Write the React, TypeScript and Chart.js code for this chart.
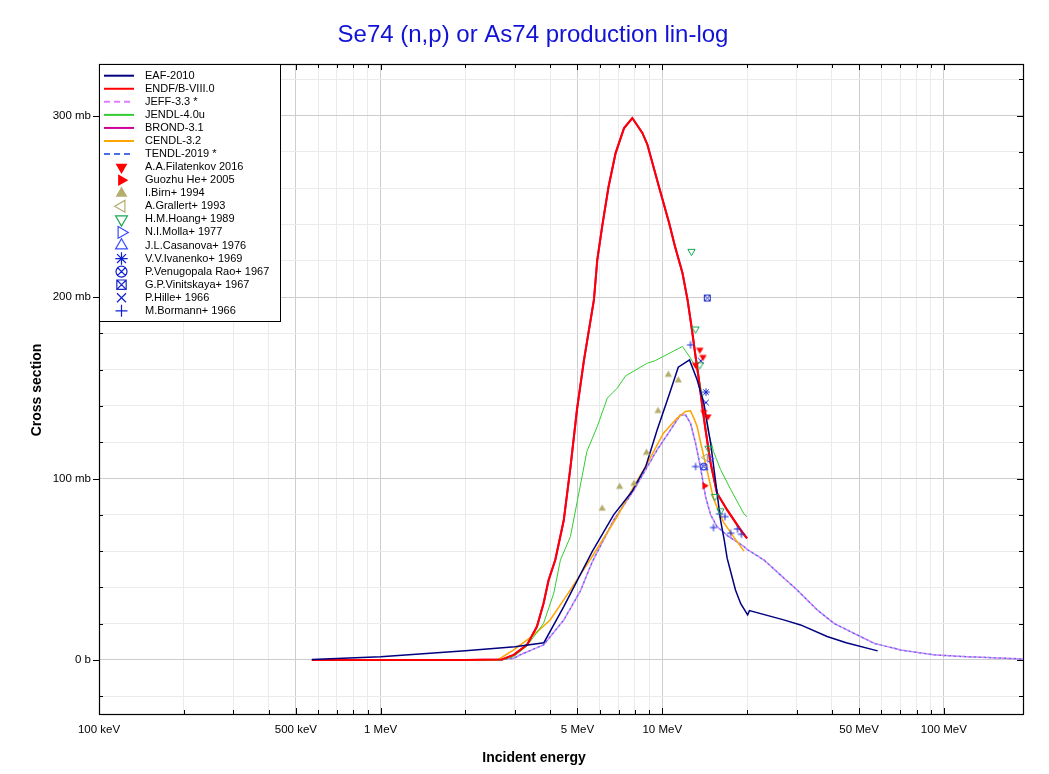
import React, { useEffect, useRef } from 'react';
import { Chart, registerables } from 'chart.js';
Chart.register(...registerables);

const FONT = '"Liberation Sans", Arial, sans-serif';
const W = 1049;
const H = 774;

// ---- axes ----
const X_MIN = 0.1; // MeV
const X_MAX = 191; // MeV
const Y_MIN = -29.8; // mb
const Y_MAX = 328.5; // mb
const xLabelValues = [0.1, 0.5, 1, 5, 10, 50, 100];
const xLabelTexts = ['100 keV', '500 keV', '1 MeV', '5 MeV', '10 MeV', '50 MeV', '100 MeV'];
const yLabelValues = [0, 100, 200, 300];
const yLabelTexts = ['0 b', '100 mb', '200 mb', '300 mb'];
const yMinorValues = [-20, 0, 20, 40, 60, 80, 100, 120, 140, 160, 180, 200, 220, 240, 260, 280, 300, 320];
const xDecades = [0.1, 1, 10, 100];
const xMultipliers = [1, 2, 3, 4, 5, 6, 7, 8, 9];

const TITLE = 'Se74 (n,p) or As74 production lin-log';
const X_TITLE = 'Incident energy';
const Y_TITLE = 'Cross section';

// ---- evaluated libraries (E in MeV, cross section in mb) ----
const eafE = [0.57, 1.0, 2.0, 3.0, 3.8, 4.47, 5.64, 6.72, 7.81, 8.74, 9.59, 10.53, 11.4, 12.5, 13.3, 14.05, 14.85, 15.5, 16.1, 16.6, 17.0, 18.2, 19.0, 20.1, 20.4, 27.0, 31.0, 38.5, 45.0, 58.2];
const eafXS = [0.3, 1.8, 5.0, 7.3, 9.5, 29.4, 59.7, 80, 92.8, 106.6, 126.8, 145.2, 161.4, 165.4, 154.4, 141.6, 119.5, 97.4, 77.2, 66.2, 56.1, 38.6, 31, 24.8, 27.2, 22.1, 19.3, 12.9, 9.5, 5.0];

const endfE = [0.57, 1.0, 2.0, 2.7, 2.97, 3.31, 3.59, 3.79, 3.95, 4.17, 4.47, 4.72, 4.98, 5.27, 5.72, 5.88, 6.12, 6.45, 6.83, 7.32, 7.83, 8.5, 8.86, 9.73, 10.58, 11.1, 11.8, 12.3, 12.75, 13.13, 13.5, 13.88, 14.25, 14.85, 15.65, 17.0, 18.97, 20.0];
const endfXS = [0, 0, 0, 0.3, 2.8, 8.3, 18.4, 31.3, 44.1, 55.1, 77, 106, 138, 165, 198.5, 220.6, 239, 261, 279.4, 293.2, 298.7, 290.5, 284, 261, 240.8, 227.9, 213.3, 198.5, 182, 167.3, 154.4, 139.7, 126.8, 108.5, 91.9, 82.7, 71.7, 67];

const brondE = endfE;
const brondXS = endfXS;

const jendlE = [0.57, 2.0, 2.7, 2.97, 3.31, 3.79, 4.12, 4.35, 4.72, 5.19, 5.4, 5.88, 6.38, 6.92, 7.41, 8.86, 9.45, 11.8, 12.6, 13.3, 14.05, 14.5, 15.2, 16.1, 17.5, 19.5, 20.0];
const jendlXS = [0, 0, 0, 1.8, 7.7, 20.2, 36.8, 55.1, 68, 101, 114.9, 128.7, 144.3, 149.8, 156.6, 163.6, 165, 172.8, 166.4, 160, 141.6, 127, 115, 105, 94, 80.5, 79];

const cendlE = [0.57, 2.0, 2.6, 2.97, 3.5, 4.0, 4.72, 5.64, 6.92, 7.92, 8.86, 10.1, 11.3, 12.1, 12.6, 12.97, 13.3, 13.68, 14.45, 15.2, 16.5, 17.9, 19.5];
const cendlXS = [0, 0, 0, 5.5, 13.8, 22, 38.6, 57, 79, 95.6, 108.5, 125, 133.3, 137, 137.3, 133, 128.7, 120, 104, 89, 76, 68, 60];

const jeffE = [2.5, 2.97, 3.13, 3.79, 4.47, 5.12, 5.64, 6.72, 7.92, 9.59, 10.7, 11.6, 12.1, 12.6, 13.13, 13.68, 14.25, 14.85, 15.65, 17.2, 18.0, 19.5, 20.0, 23, 30.1, 35.5, 40.7, 46.6, 56.5, 70.1, 92, 120, 150, 191];
const jeffXS = [0, 0.9, 2.8, 8.3, 22, 38, 54, 77, 93.5, 115.8, 126.8, 135.1, 135, 130.5, 119.5, 106, 90, 80, 73.5, 68, 66.2, 62.5, 61, 55, 38.6, 27.6, 20.2, 15.6, 9.2, 5.5, 2.8, 1.8, 1.2, 0.5];

const tendlE = jeffE;
const tendlXS = jeffXS;

// ---- experimental data ----
const filatenkovE = [13.13, 13.6, 13.95, 14.05, 14.52];
const filatenkovXS = [162.7, 171, 167, 136.6, 134.2];
const heE = [14.13];
const heXS = [96];
const birnE = [6.12, 7.06, 7.94, 8.79, 9.66, 10.51, 11.4];
const birnXS = [83.4, 95.4, 97.1, 114.2, 137.2, 157.2, 154.1];
const grallertE = [14.21];
const grallertXS = [111.6];
const hoangE = [12.7, 13.13, 13.6, 14.6, 15.38, 16.1];
const hoangXS = [225.2, 182.4, 162.7, 116.7, 90.1, 82.2];
const mollaE = [14.75];
const mollaXS = [111];
const casanovaE = [14.1];
const casanovaXS = [106];
const ivanenkoE = [14.3];
const ivanenkoXS = [147.6];
const raoE = [14.05];
const raoXS = [106.6];
const vinitskayaE = [14.45];
const vinitskayaXS = [199.5];
const hilleE = [13.7, 14.3];
const hilleXS = [164.9, 141.9];
const bormannE = [12.6, 13.13, 15.2, 16.0, 16.7, 17.5, 18.5, 19.1];
const bormannXS = [173.7, 106.6, 73, 80.5, 79, 69.9, 72.2, 69.3];

type LineSpec = { label: string; E: number[]; XS: number[]; color: string; width: number; dash: number[]; dashOffset: number; order: number };
type PointSpec = { label: string; E: number[]; XS: number[]; color: string; kind: string };

const lineSeries: LineSpec[] = [
  { label: 'EAF-2010', E: eafE, XS: eafXS, color: '#000080', width: 1.5, dash: [], dashOffset: 0, order: 3 },
  { label: 'ENDF/B-VIII.0', E: endfE, XS: endfXS, color: '#ff0000', width: 2, dash: [], dashOffset: 0, order: 4 },
  { label: 'JEFF-3.3 *', E: jeffE, XS: jeffXS, color: '#e27cff', width: 1.5, dash: [3, 2], dashOffset: 0, order: 7 },
  { label: 'JENDL-4.0u', E: jendlE, XS: jendlXS, color: '#33cc33', width: 1, dash: [], dashOffset: 0, order: 5 },
  { label: 'BROND-3.1', E: brondE, XS: brondXS, color: '#cc0099', width: 2, dash: [], dashOffset: 0, order: 9 },
  { label: 'CENDL-3.2', E: cendlE, XS: cendlXS, color: '#ffa500', width: 1.5, dash: [], dashOffset: 0, order: 6 },
  { label: 'TENDL-2019 *', E: tendlE, XS: tendlXS, color: '#4a6ee8', width: 1.5, dash: [3, 2], dashOffset: 3, order: 8 },
];

const pointSeries: PointSpec[] = [
  { label: 'A.A.Filatenkov 2016', E: filatenkovE, XS: filatenkovXS, color: '#ff0000', kind: 'tri-down-f' },
  { label: 'Guozhu He+ 2005', E: heE, XS: heXS, color: '#ff0000', kind: 'tri-right-f' },
  { label: 'I.Birn+ 1994', E: birnE, XS: birnXS, color: '#b5ad6e', kind: 'tri-up-f' },
  { label: 'A.Grallert+ 1993', E: grallertE, XS: grallertXS, color: '#b5ad6e', kind: 'tri-left-o' },
  { label: 'H.M.Hoang+ 1989', E: hoangE, XS: hoangXS, color: '#14a850', kind: 'tri-down-o' },
  { label: 'N.I.Molla+ 1977', E: mollaE, XS: mollaXS, color: '#3a4cff', kind: 'tri-right-o' },
  { label: 'J.L.Casanova+ 1976', E: casanovaE, XS: casanovaXS, color: '#3a4cff', kind: 'tri-up-o' },
  { label: 'V.V.Ivanenko+ 1969', E: ivanenkoE, XS: ivanenkoXS, color: '#1020d0', kind: 'star' },
  { label: 'P.Venugopala Rao+ 1967', E: raoE, XS: raoXS, color: '#1020d0', kind: 'circle-x' },
  { label: 'G.P.Vinitskaya+ 1967', E: vinitskayaE, XS: vinitskayaXS, color: '#1a2ac8', kind: 'square-x' },
  { label: 'P.Hille+ 1966', E: hilleE, XS: hilleXS, color: '#1020d0', kind: 'x' },
  { label: 'M.Bormann+ 1966', E: bormannE, XS: bormannXS, color: '#1020d0', kind: 'plus' },
];

function drawMarker(ctx: CanvasRenderingContext2D, kind: string, cx: number, cy: number, r: number, color: string, lw: number) {
  ctx.save();
  ctx.strokeStyle = color;
  ctx.fillStyle = color;
  ctx.lineWidth = lw;
  ctx.beginPath();
  if (kind.startsWith('tri')) {
    const dir = kind.split('-')[1];
    const rot = dir === 'up' ? 0 : dir === 'right' ? Math.PI / 2 : dir === 'down' ? Math.PI : -Math.PI / 2;
    for (let i = 0; i < 3; i++) {
      const a = rot + (i * 2 * Math.PI) / 3;
      const px = cx + Math.sin(a) * r;
      const py = cy - Math.cos(a) * r;
      if (i === 0) ctx.moveTo(px, py);
      else ctx.lineTo(px, py);
    }
    ctx.closePath();
    if (kind.endsWith('-f')) ctx.fill();
    else ctx.stroke();
  } else if (kind === 'star') {
    const d = r * 0.72;
    ctx.moveTo(cx - r, cy); ctx.lineTo(cx + r, cy);
    ctx.moveTo(cx, cy - r); ctx.lineTo(cx, cy + r);
    ctx.moveTo(cx - d, cy - d); ctx.lineTo(cx + d, cy + d);
    ctx.moveTo(cx - d, cy + d); ctx.lineTo(cx + d, cy - d);
    ctx.stroke();
  } else if (kind === 'circle-x') {
    ctx.arc(cx, cy, r, 0, Math.PI * 2);
    const d = r * 0.7;
    ctx.moveTo(cx - d, cy - d); ctx.lineTo(cx + d, cy + d);
    ctx.moveTo(cx - d, cy + d); ctx.lineTo(cx + d, cy - d);
    ctx.stroke();
  } else if (kind === 'square-x') {
    const d = r * 0.85;
    ctx.rect(cx - d, cy - d, 2 * d, 2 * d);
    ctx.moveTo(cx - d, cy - d); ctx.lineTo(cx + d, cy + d);
    ctx.moveTo(cx - d, cy + d); ctx.lineTo(cx + d, cy - d);
    ctx.stroke();
  } else if (kind === 'x') {
    const d = r * 0.75;
    ctx.moveTo(cx - d, cy - d); ctx.lineTo(cx + d, cy + d);
    ctx.moveTo(cx - d, cy + d); ctx.lineTo(cx + d, cy - d);
    ctx.stroke();
  } else if (kind === 'plus') {
    ctx.moveTo(cx - r, cy); ctx.lineTo(cx + r, cy);
    ctx.moveTo(cx, cy - r); ctx.lineTo(cx, cy + r);
    ctx.stroke();
  }
  ctx.restore();
}

function markerCanvas(kind: string, color: string, r: number, lw: number): HTMLCanvasElement {
  const size = Math.ceil(2 * r + lw + 3);
  const c = document.createElement('canvas');
  c.width = size;
  c.height = size;
  const g = c.getContext('2d')!;
  drawMarker(g, kind, size / 2, size / 2, r, color, lw);
  return c;
}

function markerRadius(kind: string, legend: boolean): number {
  if (kind.startsWith('tri')) return legend ? 6.8 : 4.2;
  if (kind === 'plus') return legend ? 6 : 3.6;
  if (kind === 'x') return legend ? 6 : 3.8;
  if (kind === 'star') return legend ? 6.2 : 3.8;
  return legend ? 5.5 : 3.5;
}

const xGridValues: number[] = [];
xDecades.forEach((d) => xMultipliers.forEach((m) => { const v = d * m; if (v <= X_MAX * 1.0001) xGridValues.push(v); }));

function labelIndex(vals: number[], v: number): number {
  for (let i = 0; i < vals.length; i++) {
    if (Math.abs(v - vals[i]) <= 1e-6 * Math.max(1, Math.abs(vals[i]))) return i;
  }
  return -1;
}

const decorPlugin = {
  id: 'decor',
  afterDatasetsDraw(chart: any) {
    const ctx: CanvasRenderingContext2D = chart.ctx;
    const { left, right, top, bottom } = chart.chartArea;
    const xs = chart.scales.x;
    const ys = chart.scales.y;
    ctx.save();
    ctx.strokeStyle = '#000';
    ctx.lineWidth = 1;
    ctx.beginPath();
    xGridValues.forEach((v) => {
      const px = Math.round(xs.getPixelForValue(v)) + 0.5;
      if (px < left + 1 || px > right - 1) return;
      const len = labelIndex(xLabelValues, v) >= 0 ? 6 : 4;
      ctx.moveTo(px, bottom); ctx.lineTo(px, bottom - len);
      ctx.moveTo(px, top); ctx.lineTo(px, top + len);
    });
    yMinorValues.forEach((v) => {
      const py = Math.round(ys.getPixelForValue(v)) + 0.5;
      const lab = labelIndex(yLabelValues, v) >= 0;
      if (lab) { ctx.moveTo(left - 6, py); ctx.lineTo(left, py); }
      else { ctx.moveTo(left, py); ctx.lineTo(left + 4, py); }
      ctx.moveTo(right, py); ctx.lineTo(right - (lab ? 6 : 4), py);
    });
    ctx.stroke();
    ctx.lineWidth = 1.2;
    ctx.strokeRect(Math.round(left) + 0.5, Math.round(top) + 0.5, Math.round(right - left), Math.round(bottom - top));
    ctx.restore();
  },
  afterDraw(chart: any) {
    const ctx: CanvasRenderingContext2D = chart.ctx;
    const { left, top } = chart.chartArea;
    ctx.save();
    // title
    ctx.fillStyle = '#1212d4';
    ctx.font = `24px ${FONT}`;
    ctx.textAlign = 'center';
    ctx.textBaseline = 'middle';
    ctx.fillText(TITLE, 533, 35);
    // axis titles
    ctx.fillStyle = '#000';
    ctx.font = `bold 14px ${FONT}`;
    ctx.fillText(X_TITLE, 534, 758);
    ctx.save();
    ctx.translate(37, 390);
    ctx.rotate(-Math.PI / 2);
    ctx.fillText(Y_TITLE, 0, 0);
    ctx.restore();
    // legend
    const bx = Math.round(left) + 0.5;
    const by = Math.round(top) + 0.5;
    const bw = 181;
    const bh = 257;
    ctx.fillStyle = '#fff';
    ctx.fillRect(bx, by, bw, bh);
    ctx.strokeStyle = '#000';
    ctx.lineWidth = 1;
    ctx.strokeRect(bx, by, bw, bh);
    const y0 = 75.7;
    const dy = 13.06;
    ctx.font = `11px ${FONT}`;
    ctx.textAlign = 'left';
    ctx.textBaseline = 'middle';
    let row = 0;
    lineSeries.forEach((s) => {
      const y = y0 + row * dy;
      ctx.save();
      ctx.strokeStyle = s.color;
      ctx.lineWidth = 2;
      ctx.setLineDash(s.dash.length ? [6, 4] : []);
      ctx.beginPath();
      ctx.moveTo(104, y);
      ctx.lineTo(134, y);
      ctx.stroke();
      ctx.restore();
      ctx.fillStyle = '#000';
      ctx.fillText(s.label, 145, y);
      row++;
    });
    pointSeries.forEach((s) => {
      const y = y0 + row * dy;
      drawMarker(ctx, s.kind, 121.5, y, markerRadius(s.kind, true), s.color, 1.2);
      ctx.fillStyle = '#000';
      ctx.fillText(s.label, 145, y);
      row++;
    });
    ctx.restore();
  },
};

export default function App() {
  const ref = useRef<HTMLCanvasElement | null>(null);
  useEffect(() => {
    const canvas = ref.current;
    if (!canvas) return;
    const datasets: any[] = [];
    lineSeries.forEach((s) => {
      datasets.push({
        label: s.label,
        data: s.E.map((x, i) => ({ x, y: s.XS[i] })),
        borderColor: s.color,
        backgroundColor: s.color,
        borderWidth: s.width,
        borderDash: s.dash,
        borderDashOffset: s.dashOffset,
        pointRadius: 0,
        pointHoverRadius: 0,
        fill: false,
        tension: 0,
        order: s.order,
      });
    });
    pointSeries.forEach((s) => {
      const r = markerRadius(s.kind, false);
      datasets.push({
        label: s.label,
        data: s.E.map((x, i) => ({ x, y: s.XS[i] })),
        showLine: false,
        pointStyle: markerCanvas(s.kind, s.color, r, 1),
        pointRadius: r,
        pointHoverRadius: r,
        borderWidth: 0,
        order: 0,
      });
    });
    const chart = new Chart(canvas, {
      type: 'line',
      data: { datasets },
      options: {
        animation: false,
        responsive: false,
        devicePixelRatio: 1,
        events: [],
        layout: { padding: { left: 0, right: 26, top: 64, bottom: 0 } },
        plugins: { legend: { display: false }, title: { display: false }, tooltip: { enabled: false } },
        scales: {
          x: {
            type: 'logarithmic',
            min: X_MIN,
            max: X_MAX,
            afterBuildTicks: (s: any) => { s.ticks = xGridValues.map((v) => ({ value: v })); },
            afterFit: (s: any) => { s.height = 60; },
            ticks: {
              autoSkip: false,
              maxRotation: 0,
              minRotation: 0,
              padding: 9,
              color: '#000',
              font: { family: FONT, size: 11.5 },
              callback: (v: any) => { const i = labelIndex(xLabelValues, Number(v)); return i >= 0 ? xLabelTexts[i] : ''; },
            },
            grid: {
              drawTicks: false,
              lineWidth: 1,
              color: (c: any) => (c.tick && labelIndex(xLabelValues, c.tick.value) >= 0 ? '#cdcdcd' : '#ebebeb'),
            },
            border: { display: true, color: '#000', width: 1 },
          },
          y: {
            type: 'linear',
            min: Y_MIN,
            max: Y_MAX,
            afterBuildTicks: (s: any) => { s.ticks = yMinorValues.map((v) => ({ value: v })); },
            afterFit: (s: any) => { s.width = 99; },
            ticks: {
              autoSkip: false,
              padding: 8,
              color: '#000',
              font: { family: FONT, size: 11.5 },
              callback: (v: any) => { const i = labelIndex(yLabelValues, Number(v)); return i >= 0 ? yLabelTexts[i] : ''; },
            },
            grid: {
              drawTicks: false,
              lineWidth: 1,
              color: (c: any) => (c.tick && labelIndex(yLabelValues, c.tick.value) >= 0 ? '#cdcdcd' : '#ebebeb'),
            },
            border: { display: true, color: '#000', width: 1 },
          },
        },
      } as any,
      plugins: [decorPlugin],
    });
    return () => chart.destroy();
  }, []);
  return (
    <div style={{ position: 'absolute', left: 0, top: 0, width: W, height: H, background: '#fff' }}>
      <canvas ref={ref} width={W} height={H} style={{ width: W, height: H, display: 'block' }} />
    </div>
  );
}
